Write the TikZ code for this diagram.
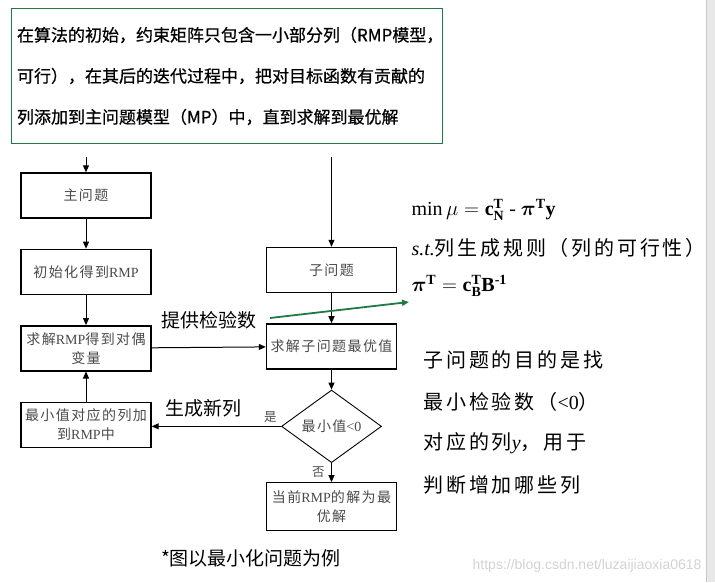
\documentclass[tikz,border=0pt]{standalone}
\usepackage{fontspec}
\usepackage{amsmath}
\usepackage{tikz}
\usetikzlibrary{positioning, arrows.meta, shapes.geometric}
\setmainfont{Liberation Serif}
\newfontfamily\cjk{Noto Sans CJK SC}
\newfontfamily\introfont[FakeBold=0.6]{Noto Sans CJK SC}
\newfontfamily\flowfont[LetterSpace=10]{Noto Sans CJK SC}
\newfontfamily\widefont[LetterSpace=14]{Noto Sans CJK SC}
\newfontfamily\markfont{Liberation Sans}
\definecolor{boxgreen}{HTML}{1F7A45}
\definecolor{flowgray}{HTML}{4A4A4A}

\begin{document}
\begin{tikzpicture}[
    x=1pt, y=-1pt,
    node distance=30pt,
    block/.style={draw, line width=1.4pt, minimum width=130pt, minimum height=45pt, align=center, inner sep=2pt, text=flowgray, font=\flowfont\fontsize{14}{19}\selectfont},
    decide/.style={draw, diamond, line width=0.9pt, minimum width=100pt, minimum height=63pt, inner sep=0pt, text=flowgray, font=\flowfont\fontsize{14}{19}\selectfont},
    arr/.style={-{Triangle[length=7pt, width=6pt]}, line width=1pt},
    hint/.style={font=\cjk\fontsize{19}{22}\selectfont},
    tag/.style={font=\flowfont\fontsize{12.5}{14}\selectfont, text=flowgray},
    remark/.style={anchor=west, font=\widefont\fontsize{20}{24}\selectfont}
]
\useasboundingbox (0,0) rectangle (715,582);
\fill[gray!18] (706,0) rectangle (715,582);
\draw[gray!45] (706,0) -- (706,582);

% intro text
\node[draw=boxgreen, line width=1pt, anchor=north west, text width=420pt, inner xsep=5.5pt, minimum height=135pt, align=left, font=\introfont\fontsize{17}{41}\selectfont] (intro) at (11,8)
  {在算法的初始，约束矩阵只包含一小部分列（RMP模型，\\可行），在其后的迭代过程中，把对目标函数有贡献的\\列添加到主问题模型（MP）中，直到求解到最优解};

% master side
\node[block] (master) at (86,195.5) {主问题};
\node[block, below=of master] (init) {初始化得到{\rmfamily RMP}};
\node[block, below=of init] (dual) {求解{\rmfamily RMP}得到对偶\\变量};
\node[block, below=of dual] (addcol) {最小值对应的列加\\到{\rmfamily RMP}中};

% pricing side
\node[block] (sub) at (331.5,270) {子问题};
\node[block, below=of sub] (subsolve) {求解子问题最优值};
\node[decide, below=20pt of subsolve] (isneg) {最小值{\rmfamily <0}};
\node[block, below=19pt of isneg, minimum height=48pt] (final) {当前{\rmfamily RMP}的解为最\\优解};

\coordinate (mastertop) at (86,157);
\coordinate (subtop) at (331.5,157);

\draw[arr] (mastertop) -- (master);
\draw[arr] (master) -- (init);
\draw[arr] (init) -- (dual);
\draw[arr] (dual) -- (subsolve) node[midway, above=14pt, hint] (provide) {提供检验数};
\draw[arr] (subtop) -- (sub);
\draw[arr] (sub) -- (subsolve);
\draw[arr] (subsolve) -- (isneg);
\draw[arr] (isneg) -- (final) node[midway, left=3pt, tag] (no) {否};
\draw[arr] (isneg.west) -- (addcol.east |- isneg.west) node[pos=0.6, above=5pt, hint] (newcol) {生成新列};
\node[tag, above left=0pt and 1pt of isneg.west] (yes) {是};
\draw[arr] (addcol) -- (dual);

% pricing model
\node[anchor=west, font=\fontsize{20}{24}\selectfont] (objective) at (408,210)
  {$\min\mu = \mathbf{c}^{\mathbf{T}}_{\mathbf{N}}$ - $\boldsymbol{\pi}^{\mathbf{T}}\mathbf{y}$};
\node[remark] (rule) at (408,248) {{\rmfamily\itshape s.t.}列生成规则（列的可行性）};
\node[anchor=west, font=\fontsize{20}{24}\selectfont] (pricing) at (408,286)
  {$\boldsymbol{\pi}^{\mathbf{T}} = \mathbf{c}^{\mathbf{T}}_{\mathbf{B}}\mathbf{B}^{\textbf{-1}}$};

\coordinate (gfrom) at (270,318);
\coordinate (gto) at (409,302);
\draw[boxgreen, line width=1.8pt, -{Triangle[length=7pt, width=6pt]}] (gfrom) -- (gto);

% notes
\node[remark] (aim1) at (420,360) {子问题的目的是找};
\node[remark] (aim2) at (420,402) {最小检验数（{\rmfamily <0}）};
\node[remark] (aim3) at (420,443) {对应的列{\rmfamily\itshape y}，用于};
\node[remark] (aim4) at (420,485) {判断增加哪些列};

\node[hint] (footnote) at (251,558) {*图以最小化问题为例};
\node[anchor=east, text=gray!35, font=\markfont\fontsize{14}{16}\selectfont] (watermark) at (705,566) {https://blog.csdn.net/luzaijiaoxia0618};
\end{tikzpicture}
\end{document}
